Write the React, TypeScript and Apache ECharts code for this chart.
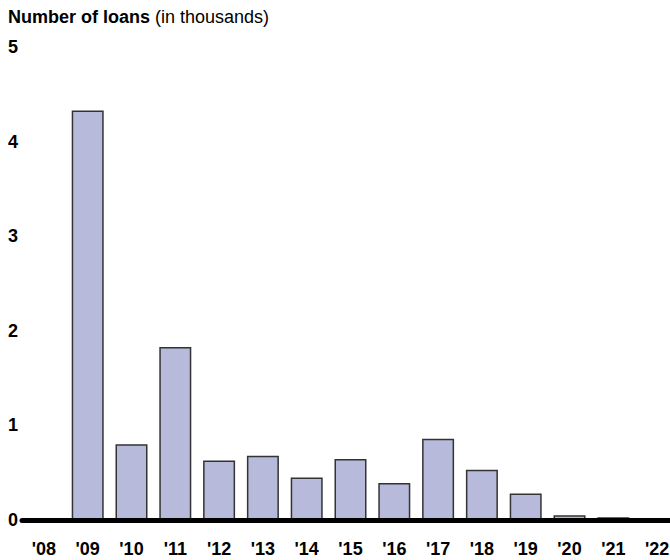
import React, { useEffect, useRef } from "react";
import * as echarts from "echarts";

const categories = ["'08", "'09", "'10", "'11", "'12", "'13", "'14", "'15", "'16", "'17", "'18", "'19", "'20", "'21", "'22"];
const loans = [0, 4.33, 0.8, 1.83, 0.63, 0.68, 0.45, 0.645, 0.39, 0.86, 0.53, 0.28, 0.05, 0.03, 0];
const yTicks = [0, 1, 2, 3, 4, 5];

const FONT = "Liberation Sans, Arial, sans-serif";

export default function App() {
  const ref = useRef<HTMLDivElement>(null);
  useEffect(() => {
    if (!ref.current) return;
    const chart = echarts.init(ref.current, null, { renderer: "svg" });
    chart.setOption({
      animation: false,
      title: {
        left: 8,
        top: 8,
        padding: 0,
        text: "{b|Number of loans} {n|(in thousands)}",
        textStyle: {
          rich: {
            b: { fontFamily: FONT, fontWeight: "bold", fontSize: 18, color: "#000" },
            n: { fontFamily: FONT, fontWeight: "normal", fontSize: 18, color: "#000" },
          },
        },
      },
      grid: { left: 22, right: 0, top: 47, bottom: 40, containLabel: false },
      xAxis: {
        type: "category",
        data: categories,
        z: 5,
        axisTick: { show: false },
        axisLine: { show: true, lineStyle: { color: "#000", width: 5 } },
        axisLabel: {
          interval: 0,
          margin: 20,
          color: "#000",
          fontFamily: FONT,
          fontWeight: "bold",
          fontSize: 18,
        },
      },
      yAxis: {
        type: "value",
        min: yTicks[0],
        max: yTicks[yTicks.length - 1],
        interval: 1,
        axisLine: { show: false },
        axisTick: { show: false },
        splitLine: { show: false },
        axisLabel: {
          align: "left",
          margin: 14,
          color: "#000",
          fontFamily: FONT,
          fontWeight: "bold",
          fontSize: 18,
        },
      },
      series: [
        {
          type: "bar",
          data: loans,
          barWidth: 32,
          itemStyle: { color: "#b7badb", borderColor: "#333", borderWidth: 1.5 },
        },
      ],
    });
    return () => chart.dispose();
  }, []);
  return (
    <div style={{ position: "absolute", left: 0, top: 0, width: 670, height: 560, overflow: "hidden" }}>
      <div ref={ref} style={{ width: 679, height: 560 }} />
    </div>
  );
}
